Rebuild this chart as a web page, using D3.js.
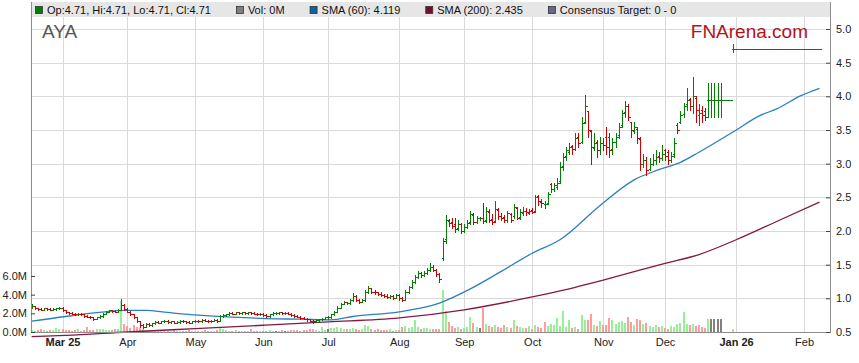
<!DOCTYPE html>
<html>
<head>
<meta charset="utf-8">
<script src="https://d3js.org/d3.v7.min.js"></script>
<style>
  html, body { margin: 0; padding: 0; background: #fff; }
  svg { display: block; font-family: "Liberation Sans", Arial, sans-serif; }
</style>
</head>
<body>
<svg id="chart" width="859" height="363"></svg>
<script>
'use strict';

// first weekday shown on the chart; every bar sits on one weekday slot
var startDate = '2025-02-17';

var opens = [
  0.87,0.88,0.85,0.84,0.83,0.85,0.84,0.83,0.84,0.85,
  0.86,0.82,0.79,0.78,0.77,0.76,0.77,0.76,0.74,0.73,0.72,
  0.70,0.72,0.74,0.77,0.80,0.82,0.81,0.80,0.83,0.90,
  0.84,0.80,0.76,0.72,0.66,0.60,0.58,0.62,0.60,0.63,
  0.65,0.64,0.66,0.67,0.65,0.66,0.64,0.65,0.67,0.66,0.65,0.64,
  0.66,0.67,0.66,0.68,0.67,0.66,0.67,0.68,0.66,0.74,
  0.75,0.76,0.78,0.77,0.79,0.78,0.79,0.78,0.79,0.78,0.77,0.76,
  0.77,0.75,0.74,0.76,0.78,0.78,0.79,0.78,0.78,0.77,0.75,
  0.74,0.73,0.71,0.70,0.69,0.67,0.66,0.68,0.69,0.70,
  0.72,0.72,0.76,0.80,0.86,0.92,0.94,0.93,0.97,1.04,
  0.97,0.95,0.97,1.10,1.15,1.10,1.09,1.07,1.05,1.04,
  1.02,1.03,1.01,1.05,1.00,0.98,1.10,1.17,1.25,1.32,
  1.37,1.35,1.38,1.42,1.47,1.42,1.36,
  1.60,1.88,2.15,2.14,2.10,2.04,2.10,2.00,2.06,2.13,
  2.24,2.14,2.19,2.20,2.16,2.28,2.18,2.15,2.31,2.23,
  2.21,2.17,2.25,2.22,2.34,2.21,2.27,2.30,2.27,2.31,
  2.30,2.52,2.43,2.40,2.42,2.70,2.62,2.66,2.75,
  2.97,3.12,3.18,3.26,3.22,3.40,3.32,3.62,3.78,3.48,
  3.24,3.32,3.20,3.30,3.40,3.40,3.22,3.32,3.42,3.58,
  3.76,3.86,3.62,3.48,3.52,3.36,3.00,3.06,2.92,3.00,
  3.06,3.12,3.08,3.20,3.18,3.06,3.14,3.58,3.62,3.74,
  3.88,3.96,3.86,3.98,3.72,3.80,3.78,
  3.95,3.95,3.95,3.95,3.95,3.95,3.95,3.95,
  4.71,4.71,4.71,4.71,4.71,4.71,4.71,4.71,4.71,4.71,
  4.71,4.71,4.71,4.71,4.71,4.71,4.71,4.71,4.71,4.71,
  4.71,4.71,4.71,4.71,4.71,4.71,4.71,4.71,4.71
];

var highs = [
  0.91,0.89,0.86,0.85,0.86,0.86,0.85,0.85,0.86,0.87,
  0.87,0.83,0.80,0.79,0.78,0.78,0.78,0.77,0.75,0.74,0.73,
  0.73,0.75,0.78,0.81,0.83,0.83,0.82,0.84,0.99,0.91,
  0.85,0.81,0.77,0.73,0.67,0.62,0.63,0.63,0.64,0.66,
  0.66,0.67,0.68,0.68,0.67,0.67,0.66,0.68,0.68,0.67,0.66,0.67,
  0.68,0.68,0.69,0.69,0.68,0.68,0.69,0.69,0.75,0.77,
  0.77,0.79,0.79,0.80,0.80,0.80,0.80,0.80,0.80,0.79,0.78,0.78,
  0.78,0.76,0.77,0.79,0.79,0.80,0.80,0.79,0.79,0.78,0.76,
  0.75,0.74,0.72,0.71,0.70,0.68,0.69,0.70,0.71,0.73,
  0.74,0.77,0.81,0.88,0.93,0.96,0.95,0.99,1.08,1.05,
  0.99,0.99,1.12,1.19,1.16,1.12,1.10,1.09,1.07,1.06,
  1.05,1.05,1.07,1.06,1.02,1.12,1.19,1.27,1.34,1.40,
  1.39,1.41,1.45,1.52,1.49,1.44,1.38,
  1.90,2.24,2.18,2.20,2.20,2.16,2.12,2.10,2.16,2.29,
  2.27,2.22,2.21,2.42,2.35,2.32,2.25,2.44,2.34,2.27,
  2.24,2.30,2.27,2.40,2.36,2.32,2.36,2.34,2.33,2.34,
  2.53,2.54,2.48,2.45,2.58,2.72,2.72,2.78,3.02,
  3.16,3.25,3.30,3.28,3.45,3.45,3.70,4.02,3.78,3.50,
  3.45,3.35,3.40,3.38,3.55,3.45,3.38,3.45,3.60,3.80,
  3.93,3.88,3.62,3.62,3.55,3.40,3.15,3.10,3.08,3.15,
  3.20,3.18,3.28,3.22,3.20,3.18,3.38,3.60,3.78,3.90,
  4.12,3.98,4.28,4.00,3.88,3.85,3.82,
  4.20,4.20,4.20,4.20,4.20,3.95,3.95,3.95,
  4.77,4.71,4.71,4.71,4.71,4.71,4.71,4.71,4.71,4.71,
  4.71,4.71,4.71,4.71,4.71,4.71,4.71,4.71,4.71,4.71,
  4.71,4.71,4.71,4.71,4.71,4.71,4.71,4.71,4.71
];

var lows = [
  0.86,0.84,0.83,0.82,0.82,0.83,0.82,0.82,0.83,0.84,
  0.81,0.78,0.77,0.76,0.75,0.75,0.75,0.73,0.72,0.71,0.68,
  0.69,0.71,0.73,0.76,0.79,0.80,0.79,0.79,0.82,0.83,
  0.79,0.75,0.71,0.65,0.58,0.56,0.57,0.59,0.59,0.62,
  0.63,0.63,0.65,0.64,0.64,0.63,0.63,0.64,0.65,0.64,0.63,0.63,
  0.65,0.65,0.65,0.66,0.65,0.65,0.66,0.65,0.66,0.73,
  0.74,0.75,0.76,0.76,0.77,0.77,0.77,0.77,0.77,0.76,0.75,0.75,
  0.74,0.73,0.73,0.75,0.77,0.77,0.77,0.77,0.76,0.74,0.73,
  0.72,0.70,0.69,0.67,0.66,0.63,0.65,0.67,0.68,0.69,
  0.70,0.71,0.75,0.79,0.85,0.91,0.92,0.92,0.96,0.96,
  0.93,0.94,0.96,1.08,1.08,1.07,1.05,1.03,1.02,1.00,
  1.00,0.99,1.00,0.98,0.96,0.97,1.08,1.15,1.23,1.30,
  1.32,1.33,1.36,1.40,1.40,1.33,1.24,
  1.57,1.82,2.08,2.05,1.99,2.02,1.97,1.98,2.04,2.11,
  2.10,2.12,2.16,2.12,2.14,2.14,2.10,2.13,2.18,2.17,
  2.13,2.14,2.14,2.20,2.18,2.18,2.24,2.24,2.25,2.26,
  2.28,2.38,2.36,2.34,2.40,2.58,2.60,2.63,2.72,
  2.90,3.05,3.15,3.15,3.20,3.25,3.30,3.60,3.40,3.00,
  3.20,3.10,3.15,3.20,3.15,3.10,3.15,3.25,3.38,3.55,
  3.70,3.65,3.40,3.45,3.30,2.90,2.95,2.83,2.90,2.98,
  3.00,3.02,3.05,3.05,3.00,3.02,3.10,3.45,3.60,3.70,
  3.80,3.80,3.75,3.62,3.57,3.62,3.65,
  3.70,3.70,3.70,3.70,3.70,3.95,3.95,3.95,
  4.66,4.71,4.71,4.71,4.71,4.71,4.71,4.71,4.71,4.71,
  4.71,4.71,4.71,4.71,4.71,4.71,4.71,4.71,4.71,4.71,
  4.71,4.71,4.71,4.71,4.71,4.71,4.71,4.71,4.71
];

var closes = [
  0.88,0.85,0.84,0.83,0.85,0.84,0.83,0.84,0.85,0.86,
  0.82,0.79,0.78,0.77,0.76,0.77,0.76,0.74,0.73,0.72,0.70,
  0.72,0.74,0.77,0.80,0.82,0.81,0.80,0.83,0.90,0.84,
  0.80,0.76,0.72,0.66,0.60,0.58,0.62,0.60,0.63,0.65,
  0.64,0.66,0.67,0.65,0.66,0.64,0.65,0.67,0.66,0.65,0.64,0.66,
  0.67,0.66,0.68,0.67,0.66,0.67,0.68,0.66,0.74,0.75,
  0.76,0.78,0.77,0.79,0.78,0.79,0.78,0.79,0.78,0.77,0.76,0.77,
  0.75,0.74,0.76,0.78,0.78,0.79,0.78,0.78,0.77,0.75,0.74,
  0.73,0.71,0.70,0.69,0.67,0.66,0.68,0.69,0.70,0.72,
  0.72,0.76,0.80,0.86,0.92,0.94,0.93,0.97,1.04,0.97,
  0.95,0.97,1.10,1.15,1.10,1.09,1.07,1.05,1.04,1.02,
  1.03,1.01,1.05,1.00,0.98,1.10,1.17,1.25,1.32,1.37,
  1.35,1.38,1.42,1.47,1.42,1.36,1.28,
  1.85,2.16,2.12,2.08,2.03,2.10,2.00,2.06,2.12,2.25,
  2.14,2.19,2.19,2.15,2.30,2.17,2.14,2.32,2.22,2.20,
  2.16,2.26,2.16,2.36,2.20,2.28,2.30,2.28,2.30,2.28,
  2.50,2.44,2.42,2.40,2.55,2.63,2.68,2.72,2.95,
  3.10,3.20,3.25,3.22,3.38,3.30,3.60,3.85,3.50,3.25,
  3.30,3.20,3.30,3.28,3.25,3.20,3.32,3.40,3.55,3.75,
  3.85,3.70,3.50,3.55,3.38,3.00,3.05,2.90,3.00,3.05,
  3.10,3.08,3.15,3.12,3.05,3.12,3.30,3.50,3.72,3.85,
  3.95,3.85,4.00,3.80,3.75,3.72,3.70,
  3.95,3.95,3.95,3.95,3.95,3.95,3.95,3.95,
  4.71,4.71,4.71,4.71,4.71,4.71,4.71,4.71,4.71,4.71,
  4.71,4.71,4.71,4.71,4.71,4.71,4.71,4.71,4.71,4.71,
  4.71,4.71,4.71,4.71,4.71,4.71,4.71,4.71,4.71
];

// daily volume, millions of shares
var volumes = [
  0.25,0.15,0.2,0.3,0.2,0.15,0.25,0.2,0.45,0.3,
  0.3,0.2,0.25,0.15,0.2,0.3,0.15,0.2,0.55,0.2,0.25,
  0.3,0.35,0.3,0.25,0.2,0.2,0.3,0.35,3.3,0.9,
  0.6,0.45,0.7,0.5,0.4,0.3,0.25,0.2,0.25,0.15,
  0.15,0.2,0.1,0.15,0.1,0.2,0.15,0.1,0.15,0.1,0.2,0.15,
  0.1,0.15,0.1,0.2,0.15,0.1,0.15,0.2,0.55,0.3,
  0.2,0.15,0.1,0.2,0.15,0.1,0.15,0.1,0.35,0.15,0.1,0.15,
  0.1,0.15,0.2,0.1,0.15,0.1,0.2,0.1,0.15,0.2,0.25,
  0.2,0.15,0.2,0.25,0.3,0.35,0.2,0.15,0.5,0.25,
  0.35,0.45,0.4,0.5,0.45,0.3,0.35,0.3,0.4,0.3,
  0.25,0.3,0.75,0.6,0.3,0.25,0.3,0.2,0.25,0.2,
  0.3,0.15,0.25,0.2,0.5,0.65,0.45,0.5,1.3,0.55,
  0.35,0.4,0.45,0.3,0.35,0.3,0.35,
  4.5,2.2,1.1,0.6,0.4,0.5,0.3,0.45,0.5,1.6,
  1.0,0.5,0.4,2.55,0.9,0.6,0.55,0.8,0.5,0.45,
  0.7,0.5,0.4,1.3,0.6,0.5,0.45,0.4,0.6,0.35,
  0.8,0.5,0.4,1.1,0.6,0.9,0.7,1.5,0.6,
  2.3,0.5,1.3,0.4,0.5,0.35,1.8,1.3,1.3,1.95,
  0.7,0.6,1.2,0.8,0.7,1.5,1.3,0.9,1.1,1.2,
  1.0,1.65,1.1,0.8,1.4,1.3,0.9,1.0,0.6,0.5,
  0.7,0.5,0.6,0.4,0.3,0.6,0.5,0.9,1.0,2.1,
  0.9,0.7,0.9,0.6,0.8,0.5,0.4,
  1.4,1.4,1.4,1.4,1.4,0,0,0,0.3
];

// moving averages (weekday slot -> value)
var sma60Days = [0, 11, 22, 31, 37, 44, 54, 65, 76, 87, 97, 104, 119, 132, 142, 152, 162, 171, 184, 195, 203, 210, 216, 227, 236, 241, 249, 255];
var sma60 = [0.66, 0.73, 0.79, 0.82, 0.82, 0.79, 0.75, 0.72, 0.70, 0.69, 0.68, 0.73, 0.80, 0.93, 1.14, 1.40, 1.67, 1.87, 2.38, 2.76, 2.91, 3.02, 3.17, 3.47, 3.72, 3.81, 4.01, 4.12];
var sma200Days = [0, 11, 31, 53, 75, 96, 119, 140, 162, 174, 185, 205, 216, 228, 242, 255];
var sma200 = [0.43, 0.45, 0.50, 0.55, 0.60, 0.65, 0.71, 0.83, 1.02, 1.14, 1.27, 1.52, 1.65, 1.87, 2.16, 2.43];

var priceTicks = [0.5, 1.0, 1.5, 2.0, 2.5, 3.0, 3.5, 4.0, 4.5, 5.0];
var volumeTicks = [0, 2, 4, 6];
var monthStarts = ['2025-03-01', '2025-04-01', '2025-05-01', '2025-06-01', '2025-07-01', '2025-08-01',
  '2025-09-01', '2025-10-01', '2025-11-01', '2025-12-01', '2026-01-01', '2026-02-01'];
var monthLabels = ['Mar 25', 'Apr', 'May', 'Jun', 'Jul', 'Aug', 'Sep', 'Oct', 'Nov', 'Dec', 'Jan 26', 'Feb'];

var legendLabels = ['Op:4.71, Hi:4.71, Lo:4.71, Cl:4.71', 'Vol: 0M', 'SMA (60): 4.119', 'SMA (200): 2.435', 'Consensus Target: 0 - 0'];
var legendColors = ['#008000', '#808080', '#0a64a4', '#7a0c2e', '#66668f'];

(function() {

  var parseDate = d3.timeParse('%Y-%m-%d');
  var start = parseDate(startDate);

  // number of weekdays between the first slot and a date
  function weekdayIndex(date) {
    return d3.timeDay.range(start, date).filter(function(d) {
      return d.getDay() !== 0 && d.getDay() !== 6;
    }).length;
  }

  var plotLeft = 31, plotRight = 830, plotTop = 17, plotBottom = 332;

  var x = d3.scaleLinear().domain([-0.2, 258.4]).range([plotLeft, plotRight]);
  var y = d3.scaleLinear().domain([0.5, 5.0]).range([plotBottom, 29]);
  var yVol = d3.scaleLinear().domain([0, 6]).range([plotBottom, 276]);

  var green = '#008000', red = '#d00000';
  var font = '"Liberation Sans", Arial, sans-serif';
  var svg = d3.select('#chart');

  // legend strip
  svg.append('rect')
    .attr('x', plotLeft).attr('y', 2)
    .attr('width', plotRight - plotLeft).attr('height', plotTop - 2)
    .attr('fill', '#e6e6e6');

  // grid
  var monthIdx = monthStarts.map(function(s) { return weekdayIndex(parseDate(s)); });
  var grid = svg.append('g').attr('shape-rendering', 'crispEdges');
  grid.selectAll('line.h').data(priceTicks.slice(1)).enter().append('line')
    .attr('x1', plotLeft).attr('x2', plotRight)
    .attr('y1', function(d) { return Math.round(y(d)) + 0.5; })
    .attr('y2', function(d) { return Math.round(y(d)) + 0.5; })
    .attr('stroke', '#d9d9d9');
  grid.selectAll('line.v').data(monthIdx).enter().append('line')
    .attr('y1', plotTop).attr('y2', plotBottom)
    .attr('x1', function(d) { return Math.round(x(d)) + 0.5; })
    .attr('x2', function(d) { return Math.round(x(d)) + 0.5; })
    .attr('stroke', '#d9d9d9');

  // volume bars
  svg.append('g').attr('shape-rendering', 'crispEdges')
    .selectAll('rect').data(volumes).enter().append('rect')
    .attr('x', function(d, i) { return Math.round(x(i)) - 1; })
    .attr('width', 2)
    .attr('y', function(d) { return yVol(d); })
    .attr('height', function(d) { return plotBottom - yVol(d); })
    .attr('fill', function(d, i) {
      var prev = i > 0 ? closes[i - 1] : opens[i];
      if (closes[i] > prev) return '#99ee99';
      if (closes[i] < prev) return '#ff9c9c';
      return '#808080';
    });

  // moving averages
  var line = d3.line().curve(d3.curveMonotoneX)
    .x(function(d) { return x(d[0]); })
    .y(function(d) { return y(d[1]); });
  svg.append('path')
    .attr('d', line(d3.zip(sma200Days, sma200)))
    .attr('fill', 'none').attr('stroke', '#85183e').attr('stroke-width', 1.3);
  svg.append('path')
    .attr('d', line(d3.zip(sma60Days, sma60)))
    .attr('fill', 'none').attr('stroke', '#2c7fbf').attr('stroke-width', 1.3);

  // OHLC bars
  var bars = svg.append('g').attr('shape-rendering', 'crispEdges').attr('stroke-width', 1);
  closes.forEach(function(c, i) {
    var cx = Math.round(x(i)) + 0.5;
    var col = c >= opens[i] ? green : red;
    var g = bars.append('g').attr('stroke', col);
    if (highs[i] !== lows[i]) {
      g.append('line').attr('x1', cx).attr('x2', cx)
        .attr('y1', Math.round(y(highs[i]))).attr('y2', Math.round(y(lows[i])) + 1);
    }
    g.append('line').attr('x1', cx - 2).attr('x2', cx)
      .attr('y1', Math.round(y(opens[i])) + 0.5).attr('y2', Math.round(y(opens[i])) + 0.5);
    g.append('line').attr('x1', cx).attr('x2', cx + 2)
      .attr('y1', Math.round(y(c)) + 0.5).attr('y2', Math.round(y(c)) + 0.5);
  });

  // axes frame
  var frame = svg.append('g').attr('stroke', '#8c8c8c').attr('shape-rendering', 'crispEdges');
  frame.append('line').attr('x1', plotLeft + 0.5).attr('x2', plotLeft + 0.5).attr('y1', 2).attr('y2', plotBottom + 1);
  frame.append('line').attr('x1', plotRight + 0.5).attr('x2', plotRight + 0.5).attr('y1', 2).attr('y2', plotBottom + 1);
  frame.append('line').attr('x1', plotLeft).attr('x2', plotRight + 1).attr('y1', plotBottom + 0.5).attr('y2', plotBottom + 0.5);

  // right price axis
  var yAxis = svg.append('g').attr('transform', 'translate(' + plotRight + ',0)')
    .call(d3.axisRight(y).tickValues(priceTicks).tickSize(0).tickPadding(6).tickFormat(d3.format('.1f')));
  yAxis.select('.domain').remove();
  yAxis.selectAll('.tick line').attr('x1', -4).attr('x2', 0).attr('stroke', '#444');
  yAxis.selectAll('text').attr('font-size', 11).attr('fill', '#222').attr('font-family', font);

  // left volume axis
  var vAxis = svg.append('g').attr('transform', 'translate(' + plotLeft + ',0)')
    .call(d3.axisLeft(yVol).tickValues(volumeTicks).tickSize(0).tickPadding(4)
      .tickFormat(function(d) { return d3.format('.1f')(d) + 'M'; }));
  vAxis.select('.domain').remove();
  vAxis.selectAll('.tick line').attr('x1', 0).attr('x2', 4).attr('stroke', '#444');
  vAxis.selectAll('text').attr('font-size', 11).attr('fill', '#222').attr('font-family', font);

  // month axis
  var xAxis = svg.append('g').attr('transform', 'translate(0,' + plotBottom + ')')
    .call(d3.axisBottom(x).tickValues(monthIdx).tickSize(0).tickPadding(6)
      .tickFormat(function(d, i) { return monthLabels[i]; }));
  xAxis.select('.domain').remove();
  xAxis.selectAll('text').attr('font-size', 11).attr('fill', '#222').attr('font-family', font)
    .attr('font-weight', function(d, i) { return monthLabels[i].indexOf(' ') > 0 ? 'bold' : 'normal'; });

  // titles
  svg.append('text').attr('x', 42).attr('y', 38)
    .attr('font-size', 19).attr('fill', '#555').text('AYA');
  svg.append('text').attr('x', 808).attr('y', 38).attr('text-anchor', 'end')
    .attr('font-size', 19).attr('fill', '#b3121c').text('FNArena.com');

  // legend entries, laid out one after another
  var lx = 35;
  legendLabels.forEach(function(label, i) {
    svg.append('rect').attr('x', lx + 0.5).attr('y', 6.5).attr('width', 7).attr('height', 7)
      .attr('fill', legendColors[i]).attr('stroke', '#333').attr('stroke-width', 0.8);
    var t = svg.append('text').attr('x', lx + 12).attr('y', 14)
      .attr('font-size', 11).attr('fill', '#111').text(label);
    lx += 12 + t.node().getComputedTextLength() + 25;
  });

})();
</script>
</body>
</html>
